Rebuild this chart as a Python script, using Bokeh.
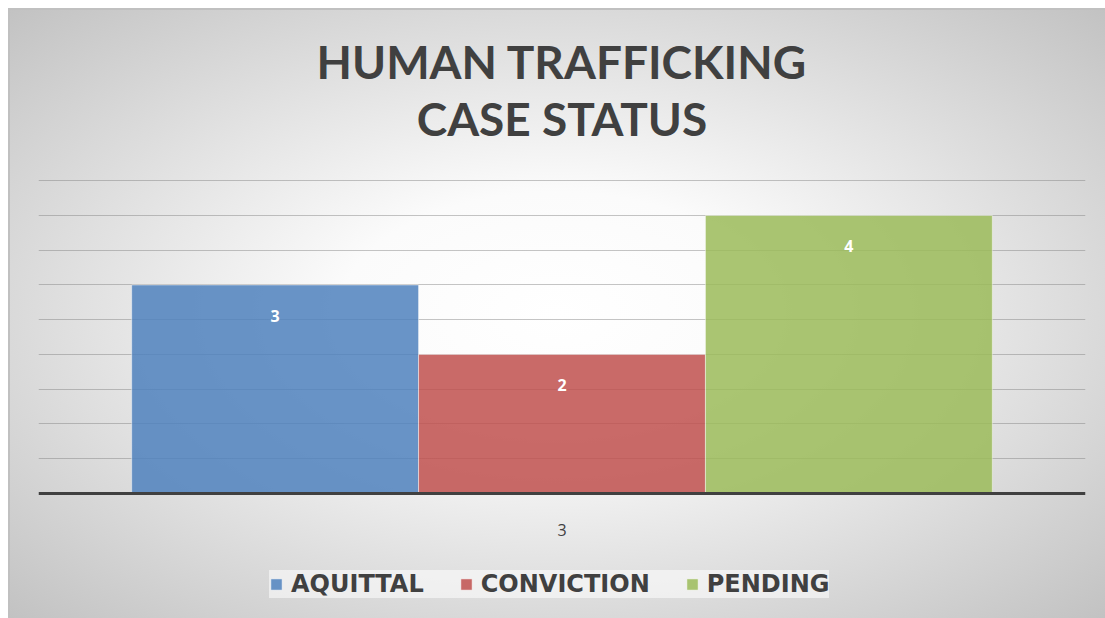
from bokeh.plotting import figure
from bokeh.models import (ColumnDataSource, FactorRange, Range1d, FixedTicker, Legend,
                          LegendItem, LabelSet, Span)
from bokeh.core.properties import value
from bokeh.transform import dodge
from bokeh.embed import file_html
from bokeh.resources import INLINE

# ---- data ----
categories = ["3"]
series = ["AQUITTAL", "CONVICTION", "PENDING"]
values = [3, 2, 4]
colors = ["#4F81BD", "#C0504D", "#9BBB59"]
offsets = [-0.274, 0.0, 0.274]
grid_ticks = [0.5, 1, 1.5, 2, 2.5, 3, 3.5, 4, 4.5]
title_lines = ["HUMAN TRAFFICKING", "CASE STATUS"]

# value scale spans the whole chart area (title above, category label + legend below)
Y_START, Y_END = -1.7986, 6.978
p = figure(frame_width=1047, frame_height=610, x_range=FactorRange(*categories, range_padding=0),
           y_range=Range1d(Y_START, Y_END), output_backend="svg", toolbar_location=None,
           title=None, x_axis_location=None,
           min_border_left=30, min_border_right=20, min_border_top=0, min_border_bottom=0)

p.styles = {
    "margin": "8px",
    "background-color": "#c4c4c4",
    "background-image": "radial-gradient(ellipse at 50% 50%, #ffffff 0%, #fbfbfb 28%, #c2c2c2 100%)",
    "background-size": "1097px 610px",
    "background-repeat": "no-repeat",
    "box-shadow": "inset 2px 2px 0 #c0c0c0",
}
p.background_fill_alpha = 0
p.border_fill_alpha = 0
p.outline_line_color = None

# title lines, centred on the category, anchored above the top gridline
tsrc = ColumnDataSource(dict(x=[categories[0]] * 2, y=[grid_ticks[-1]] * 2, text=title_lines,
                             off=[102, 45]))
p.add_layout(LabelSet(x="x", y="y", y_offset="off", text="text", source=tsrc,
                      text_align="center", text_baseline="alphabetic",
                      text_font=value("Lato"), text_font_size="46px",
                      text_font_style="bold", text_color="#404040"))

items = []
for s, v, c, o in zip(series, values, colors, offsets):
    src = ColumnDataSource(dict(cat=categories, val=[v], lab=[str(v)]))
    r = p.vbar(x=dodge("cat", o, range=p.x_range), top="val", bottom=0, width=0.274, source=src,
               fill_color=c, fill_alpha=0.85, line_color="white", line_alpha=0.45, line_width=1)
    items.append(LegendItem(label=s, renderers=[r]))
    lbl = LabelSet(x=dodge("cat", o, range=p.x_range), y="val", text="lab", source=src,
                   y_offset=-31, text_align="center", text_baseline="middle",
                   text_color="white", text_font=value("Open Sans"), text_font_style="bold",
                   text_font_size="16px")
    p.add_layout(lbl)

# grid (value axis itself hidden, no vertical grid)
for g in p.xgrid:
    g.visible = False
p.ygrid.ticker = FixedTicker(ticks=grid_ticks)
p.ygrid.grid_line_color = "#7f7f7f"
p.ygrid.grid_line_alpha = 0.45
p.ygrid.grid_line_width = 1.2
p.yaxis.visible = False

# category axis line at zero and its category label
p.add_layout(Span(location=0, dimension="width", line_color="#404040", line_width=3))
csrc = ColumnDataSource(dict(x=categories, y=[0] * len(categories), text=categories))
p.add_layout(LabelSet(x="x", y="y", text="text", source=csrc, y_offset=-37,
                      text_align="center", text_baseline="middle",
                      text_font=value("Open Sans"), text_font_size="16px",
                      text_color="#404040"))

legend = Legend(items=items, orientation="horizontal", location=(231, 20),
                glyph_width=14, glyph_height=14, label_standoff=8, spacing=35, padding=12,
                label_text_font="DejaVu Sans", label_text_font_style="bold",
                label_text_font_size="24px", label_text_color="#404040",
                background_fill_color="white", background_fill_alpha=0.55,
                border_line_color=None)
p.add_layout(legend, "center")

open("out.html", "w").write(file_html(p, INLINE))
